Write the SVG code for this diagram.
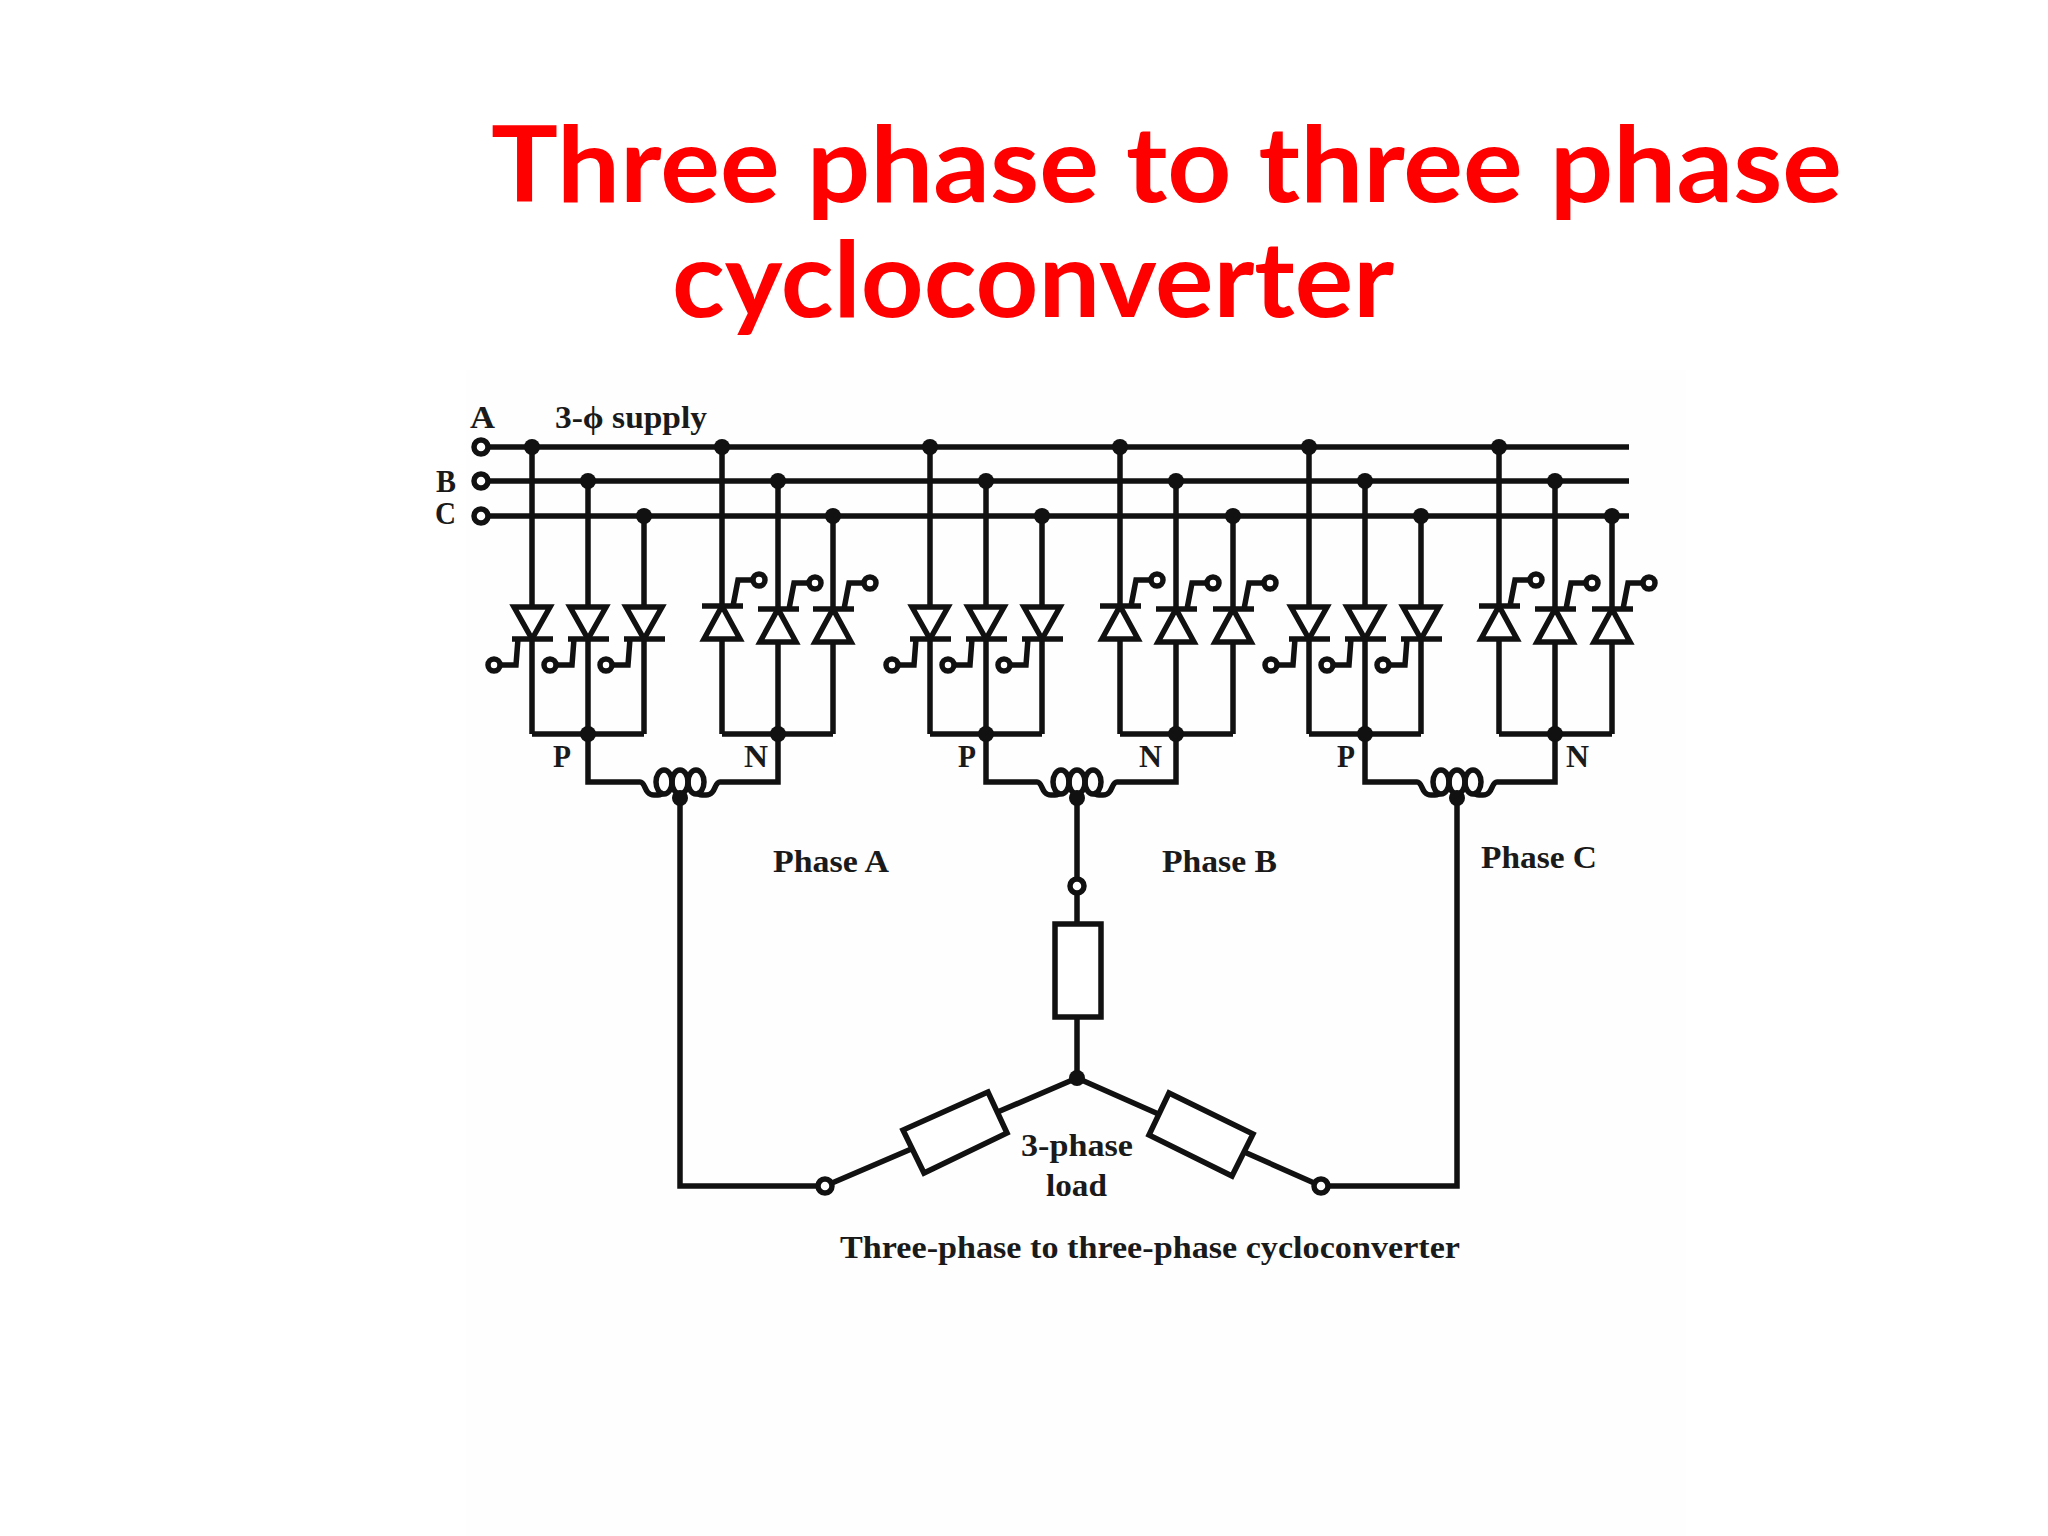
<svg xmlns="http://www.w3.org/2000/svg" width="2048" height="1536" viewBox="0 0 2048 1536">
<style>
.w{fill:none;stroke:#111;stroke-width:5.5;stroke-linejoin:miter}
.s{fill:#fff;stroke:#111;stroke-width:5.5}
.d{fill:#111}
.t{font-family:"Liberation Serif","Times New Roman",serif;font-weight:700;font-size:31px;fill:#1a1a1a}
.h{font-family:Lato,"Open Sans",sans-serif;font-weight:700;font-size:106px;fill:#ff0000}
</style>
<defs>
<g id="thd"><path class="s" d="M-18-32H18L0 0Z"/><path class="w" d="M-20 0H21M-14 0L-16 26H-32"/><circle class="s" cx="-38" cy="26" r="6"/></g>
<g id="thu"><path class="s" d="M0 0L-18 33H18Z"/><path class="w" d="M-20 0H21M11 0L16-26H30"/><circle class="s" cx="37" cy="-26" r="6"/></g>
<g id="coil"><path class="w" d="M-40 0C-34 0-36 13-26 13C-20 13-20 13-16 11M16 11C20 13 20 13 26 13C36 13 34 0 40 0"/><ellipse class="w" cx="-16" cy="0" rx="8" ry="12"/><ellipse class="w" cx="0" cy="0" rx="8" ry="12"/><ellipse class="w" cx="16" cy="0" rx="8" ry="12"/><circle class="d" cx="0" cy="16" r="8"/></g>
<circle id="dot" class="d" r="8"/>
</defs>
<rect width="2048" height="1536" fill="#fff"/>
<rect x="466" y="370" width="1220" height="1166" fill="#fefefe"/>
<g id="title">
<text class="h" x="491" y="202" textLength="1351" lengthAdjust="spacingAndGlyphs">Three phase to three phase</text>
<text class="h" x="672" y="317" textLength="722" lengthAdjust="spacingAndGlyphs">cycloconverter</text>
</g>
<g id="connectors">
<path class="w" d="M487 447H1629M487 481H1629M487 516H1629"/>
<path class="w" d="M532 447V734M588 481V734M644 516V734M722 447V734M778 481V734M833 516V734M532 734H644M722 734H833"/>
<path class="w" d="M930 447V734M986 481V734M1042 516V734M1120 447V734M1176 481V734M1233 516V734M930 734H1042M1120 734H1233"/>
<path class="w" d="M1309 447V734M1365 481V734M1421 516V734M1499 447V734M1555 481V734M1612 516V734M1309 734H1421M1499 734H1612"/>
<path class="w" d="M588 734V782H640M778 734V782H720M986 734V782H1037M1176 734V782H1117M1365 734V782H1417M1555 734V782H1497"/>
<path class="w" d="M680 798V1186H819M1457 798V1186H1327M1077 798V880M1077 892V1078M1077 1078L825 1186M1077 1078L1321 1186"/>
<g id="junctions">
<use href="#dot" x="532" y="447"/><use href="#dot" x="722" y="447"/><use href="#dot" x="930" y="447"/><use href="#dot" x="1120" y="447"/><use href="#dot" x="1309" y="447"/><use href="#dot" x="1499" y="447"/>
<use href="#dot" x="588" y="481"/><use href="#dot" x="778" y="481"/><use href="#dot" x="986" y="481"/><use href="#dot" x="1176" y="481"/><use href="#dot" x="1365" y="481"/><use href="#dot" x="1555" y="481"/>
<use href="#dot" x="644" y="516"/><use href="#dot" x="833" y="516"/><use href="#dot" x="1042" y="516"/><use href="#dot" x="1233" y="516"/><use href="#dot" x="1421" y="516"/><use href="#dot" x="1612" y="516"/>
<use href="#dot" x="588" y="734"/><use href="#dot" x="778" y="734"/><use href="#dot" x="986" y="734"/><use href="#dot" x="1176" y="734"/><use href="#dot" x="1365" y="734"/><use href="#dot" x="1555" y="734"/>
<use href="#dot" x="1077" y="1078"/>
</g>
</g>
<g id="thyristors-phase-a">
<use href="#thd" x="532" y="639"/><use href="#thd" x="588" y="639"/><use href="#thd" x="644" y="639"/>
<use href="#thu" x="722" y="606"/><use href="#thu" x="778" y="609"/><use href="#thu" x="833" y="609"/>
</g>
<g id="thyristors-phase-b">
<use href="#thd" x="930" y="639"/><use href="#thd" x="986" y="639"/><use href="#thd" x="1042" y="639"/>
<use href="#thu" x="1120" y="606"/><use href="#thu" x="1176" y="609"/><use href="#thu" x="1233" y="609"/>
</g>
<g id="thyristors-phase-c">
<use href="#thd" x="1309" y="639"/><use href="#thd" x="1365" y="639"/><use href="#thd" x="1421" y="639"/>
<use href="#thu" x="1499" y="606"/><use href="#thu" x="1555" y="609"/><use href="#thu" x="1612" y="609"/>
</g>
<g id="coil-a"><use href="#coil" x="680" y="782"/></g>
<g id="coil-b"><use href="#coil" x="1077" y="782"/></g>
<g id="coil-c"><use href="#coil" x="1457" y="782"/></g>
<g id="terminals">
<circle class="s" cx="481" cy="447" r="7"/><circle class="s" cx="481" cy="481" r="7"/><circle class="s" cx="481" cy="516" r="7"/>
<circle class="s" cx="1077" cy="886" r="7"/><circle class="s" cx="825" cy="1186" r="7"/><circle class="s" cx="1321" cy="1186" r="7"/>
</g>
<g id="load">
<rect class="s" x="1055" y="924" width="46" height="93"/>
<path class="s" d="M988 1092L903 1130L924 1173L1007 1133Z"/>
<path class="s" d="M1169 1093L1253 1134L1232 1176L1149 1135Z"/>
</g>
<g id="labels">
<text class="t" x="470" y="428" textLength="25" lengthAdjust="spacingAndGlyphs">A</text>
<text class="t" x="555" y="428" textLength="152" lengthAdjust="spacingAndGlyphs">3-ϕ supply</text>
<text class="t" x="436" y="492" textLength="20" lengthAdjust="spacingAndGlyphs">B</text>
<text class="t" x="435" y="524" textLength="21" lengthAdjust="spacingAndGlyphs">C</text>
<text class="t" x="553" y="767" textLength="18" lengthAdjust="spacingAndGlyphs">P</text>
<text class="t" x="744" y="767" textLength="24" lengthAdjust="spacingAndGlyphs">N</text>
<text class="t" x="958" y="767" textLength="18" lengthAdjust="spacingAndGlyphs">P</text>
<text class="t" x="1139" y="767" textLength="23" lengthAdjust="spacingAndGlyphs">N</text>
<text class="t" x="1337" y="767" textLength="18" lengthAdjust="spacingAndGlyphs">P</text>
<text class="t" x="1566" y="767" textLength="23" lengthAdjust="spacingAndGlyphs">N</text>
<text class="t" x="773" y="872" textLength="116" lengthAdjust="spacingAndGlyphs">Phase A</text>
<text class="t" x="1162" y="872" textLength="115" lengthAdjust="spacingAndGlyphs">Phase B</text>
<text class="t" x="1481" y="868" textLength="116" lengthAdjust="spacingAndGlyphs">Phase C</text>
<text class="t" x="1021" y="1156" textLength="112" lengthAdjust="spacingAndGlyphs">3-phase</text>
<text class="t" x="1046" y="1196" textLength="61" lengthAdjust="spacingAndGlyphs">load</text>
<text class="t" x="840" y="1258" textLength="620" lengthAdjust="spacingAndGlyphs">Three-phase to three-phase cycloconverter</text>
</g>
</svg>
